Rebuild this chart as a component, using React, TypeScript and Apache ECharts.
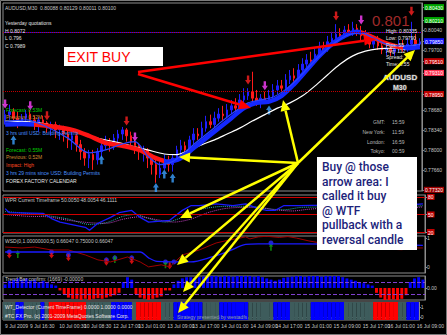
import React, { useEffect, useRef } from "react";
import * as echarts from "echarts";

// ---------- price data: AUDUSD M30, one bar per slot ----------
// [open, close, low, high]
const candles: number[][] = [
  [0.7851, 0.786, 0.7843, 0.7868], [0.786, 0.7865, 0.7851, 0.7877], [0.7865, 0.7854, 0.7848, 0.7871], [0.7854, 0.7848, 0.7837, 0.7865],
  [0.7848, 0.7854, 0.7841, 0.7861], [0.7854, 0.7861, 0.7848, 0.7868], [0.7861, 0.7851, 0.7844, 0.7868], [0.7851, 0.7843, 0.7834, 0.7858],
  [0.7843, 0.7851, 0.7831, 0.7856], [0.7851, 0.7846, 0.7839, 0.7858], [0.7846, 0.7837, 0.7829, 0.7849], [0.7837, 0.7843, 0.7824, 0.7848],
  [0.7843, 0.7834, 0.782, 0.7848], [0.7834, 0.7837, 0.7817, 0.7843], [0.7837, 0.7827, 0.7814, 0.7841], [0.7827, 0.7817, 0.7803, 0.7834],
  [0.7817, 0.7824, 0.78, 0.7831], [0.7824, 0.7809, 0.7797, 0.7827], [0.7809, 0.7797, 0.7783, 0.7817], [0.7797, 0.7786, 0.7773, 0.7803],
  [0.7786, 0.7792, 0.7769, 0.78], [0.7792, 0.7783, 0.7766, 0.78], [0.7783, 0.7797, 0.7775, 0.7803], [0.7797, 0.7807, 0.7786, 0.7814],
  [0.7807, 0.7814, 0.78, 0.7824], [0.7814, 0.7809, 0.7797, 0.782], [0.7809, 0.782, 0.78, 0.7827], [0.782, 0.7827, 0.781, 0.7834],
  [0.7827, 0.7834, 0.7817, 0.7839], [0.7834, 0.7824, 0.7814, 0.7837], [0.7824, 0.7814, 0.7803, 0.7831], [0.7814, 0.7807, 0.7793, 0.7817],
  [0.7807, 0.7797, 0.7783, 0.781], [0.7797, 0.78, 0.778, 0.7807], [0.78, 0.7786, 0.7769, 0.7803], [0.7786, 0.7775, 0.7758, 0.7792],
  [0.7775, 0.7758, 0.7744, 0.7783], [0.7758, 0.7769, 0.7752, 0.7783], [0.7769, 0.7783, 0.7766, 0.7792], [0.7783, 0.7775, 0.7763, 0.779],
  [0.7775, 0.7786, 0.7763, 0.7793], [0.7786, 0.78, 0.778, 0.7807], [0.78, 0.7807, 0.779, 0.7817], [0.7807, 0.78, 0.7793, 0.7814],
  [0.78, 0.7817, 0.7797, 0.7824], [0.7817, 0.7827, 0.781, 0.7837], [0.7827, 0.7824, 0.7817, 0.7837], [0.7824, 0.7837, 0.782, 0.7848],
  [0.7837, 0.7848, 0.7831, 0.7858], [0.7848, 0.7843, 0.7837, 0.786], [0.7843, 0.7854, 0.7837, 0.7865], [0.7854, 0.7861, 0.7848, 0.7871],
  [0.7861, 0.7858, 0.7851, 0.7875], [0.7858, 0.7868, 0.7854, 0.7878], [0.7868, 0.7875, 0.7861, 0.7885], [0.7875, 0.7871, 0.7865, 0.7888],
  [0.7871, 0.7885, 0.7868, 0.7895], [0.7885, 0.7892, 0.7878, 0.7905], [0.7892, 0.7899, 0.7885, 0.7905], [0.7899, 0.7888, 0.7878, 0.7933],
  [0.7888, 0.7882, 0.7875, 0.7902], [0.7882, 0.7888, 0.7871, 0.7895], [0.7888, 0.7885, 0.7878, 0.7899], [0.7885, 0.7892, 0.7878, 0.7902],
  [0.7892, 0.7902, 0.7885, 0.7912], [0.7902, 0.7909, 0.7895, 0.7919], [0.7909, 0.7905, 0.7899, 0.7919], [0.7905, 0.7919, 0.7902, 0.7929],
  [0.7919, 0.7926, 0.7912, 0.7936], [0.7926, 0.7922, 0.7916, 0.7939], [0.7922, 0.7936, 0.7919, 0.7946], [0.7936, 0.7946, 0.7933, 0.7956],
  [0.7946, 0.7953, 0.7939, 0.7963], [0.7953, 0.795, 0.7943, 0.7967], [0.795, 0.7963, 0.7946, 0.7973], [0.7963, 0.7973, 0.796, 0.7984],
  [0.7973, 0.797, 0.7963, 0.7984], [0.797, 0.7984, 0.7967, 0.7994], [0.7984, 0.799, 0.7977, 0.8001], [0.799, 0.7997, 0.7984, 0.8014],
  [0.7997, 0.7994, 0.7987, 0.8007], [0.7994, 0.8004, 0.799, 0.8011], [0.8004, 0.7999, 0.7994, 0.8014], [0.7999, 0.8007, 0.7994, 0.8018],
  [0.8007, 0.8001, 0.7994, 0.8014], [0.8001, 0.7994, 0.7987, 0.8011], [0.7994, 0.7987, 0.798, 0.8004], [0.7987, 0.798, 0.7973, 0.7997],
  [0.798, 0.7987, 0.7973, 0.7994], [0.7987, 0.7977, 0.797, 0.7994], [0.7977, 0.797, 0.7963, 0.7984], [0.797, 0.7973, 0.7961, 0.798],
  [0.7973, 0.7967, 0.796, 0.798], [0.7967, 0.7972, 0.796, 0.798], [0.7972, 0.7979, 0.7967, 0.7987], [0.7979, 0.7973, 0.7967, 0.7987],
  [0.7973, 0.798, 0.7967, 0.799], [0.798, 0.7987, 0.7973, 0.8018], [0.7987, 0.798, 0.7973, 0.7997], [0.798, 0.7984, 0.7975, 0.799],
];

// slow trend ribbon [bar, price]; colour changes with direction
const ribbon: number[][] = [
  [0, 0.7843], [4, 0.7844], [7, 0.7843], [12, 0.7839], [16, 0.7834], [20, 0.7824], [24, 0.7812], [28, 0.7807],
  [32, 0.78], [36, 0.7786], [39, 0.778], [42, 0.7786], [45, 0.7803], [48, 0.782], [51, 0.7837], [54, 0.7854],
  [57, 0.7871], [60, 0.788], [63, 0.7882], [66, 0.7892], [69, 0.7912], [72, 0.7936], [75, 0.796], [78, 0.798],
  [81, 0.7994], [84, 0.8001], [87, 0.7994], [90, 0.7984], [93, 0.7977], [96, 0.7973], [99, 0.7975],
];
const ribbonTurns = [7, 38, 85, 95]; // bars where the ribbon flips colour

// fast average (thin blue)
const fastLine: number[][] = [
  [0, 0.7848], [5, 0.7851], [10, 0.7839], [15, 0.782], [20, 0.7795], [24, 0.78], [28, 0.781], [31, 0.7814],
  [34, 0.779], [37, 0.7775], [40, 0.778], [43, 0.7797], [46, 0.7815], [49, 0.7832], [52, 0.785], [55, 0.7866],
  [58, 0.788], [61, 0.7885], [64, 0.789], [67, 0.7903], [70, 0.7922], [73, 0.7945], [76, 0.7966], [79, 0.7984],
  [82, 0.7996], [85, 0.7999], [88, 0.799], [91, 0.798], [94, 0.7977], [97, 0.7978], [99, 0.798],
];

// long moving average (white)
const whiteMA: number[][] = [
  [0, 0.7849], [5, 0.7848], [10, 0.7844], [14, 0.7837], [18, 0.7829], [22, 0.782], [26, 0.7814], [30, 0.7807],
  [34, 0.78], [38, 0.7793], [41, 0.7792], [44, 0.78], [47, 0.7809], [50, 0.7817], [53, 0.7827], [56, 0.7837],
  [59, 0.7849], [62, 0.786], [65, 0.7871], [68, 0.788], [71, 0.7892], [74, 0.7909], [77, 0.7928], [80, 0.7946],
  [83, 0.796], [86, 0.7968], [89, 0.7972], [92, 0.7973], [95, 0.7975], [99, 0.7979],
];

// signal arrows on the price window
const sellArrows: number[][] = [[10, 0.7858], [29, 0.7849], [58, 0.7919], [79, 0.8028], [97, 0.8036]];
const exitArrows: number[][] = [[0, 0.7878], [6, 0.7875], [31, 0.7822], [62, 0.7909], [85, 0.8021]];
const buyArrows: number[][] = [[2, 0.7817], [23, 0.7783], [36, 0.7736], [38, 0.7759], [40, 0.7752], [63, 0.7868]];

// horizontal levels on the price window and their tag colours
const levelValues = [0.8043, 0.8021, 0.7985, 0.7951, 0.7931, 0.7895, 0.7732];
const levelColors = ["#00a800", "#00a800", "#1010ff", "#c00000", "#ff3050", "#c00000", "#a00000"];
const priceTicks = [0.8004, 0.797, 0.7868, 0.7834, 0.78, 0.7766];

// ---------- WPR window ----------
const wprBlue: number[][] = [
  [0, 60], [1, 53], [9, 52], [11, 43], [13, 37], [19, 28], [20, 23], [22, 35], [25, 45], [27, 53], [30, 57],
  [32, 45], [34, 37], [39, 40], [42, 57], [44, 65], [46, 65], [50, 68], [54, 65], [57, 68], [60, 60], [62, 57],
  [64, 57], [66, 65], [70, 65], [75, 66], [80, 70], [85, 64], [90, 60], [95, 66], [99, 68],
];
const wprCyan: number[][] = [
  [0, 55], [5, 52], [10, 48], [15, 42], [20, 33], [24, 36], [28, 47], [31, 50], [34, 43], [38, 37], [42, 45],
  [46, 58], [50, 63], [54, 64], [58, 64], [62, 60], [66, 58], [70, 62], [75, 63], [80, 66], [85, 65], [90, 62],
  [95, 63], [99, 65],
];
const wprMagenta: number[][] = [
  [0, 50], [5, 47], [10, 46], [15, 40], [20, 36], [24, 35], [28, 42], [32, 46], [36, 41], [40, 37], [44, 42],
  [48, 53], [52, 60], [56, 62], [60, 62], [64, 58], [68, 56], [72, 59], [76, 61], [80, 63], [85, 64], [90, 62],
  [95, 61], [99, 63],
];
const wprLevels = [80, 50, 20];

// ---------- WSD window ----------
const wsdRed: number[][] = [
  [0, 0.69], [4, 0.66], [7, 0.69], [11, 0.59], [15, 0.59], [19, 0.42], [22, 0.25], [25, 0.18], [29, 0.35],
  [32, 0.18], [34, 0.01], [37, 0.08], [39, 0.01], [42, 0.42], [46, 0.59], [50, 0.83], [53, 0.93], [55, 0.98],
  [57, 1.04], [58, 0.97], [60, 1.04], [62, 1.06], [65, 1.02], [67, 1.05], [69, 1.0], [72, 0.9], [76, 0.8],
  [80, 0.75], [85, 0.7], [90, 0.62], [94, 0.6], [97, 0.66], [99, 0.66],
];
const wsdBlue: number[][] = [
  [0, 0.52], [32, 0.52], [34, 0.32], [36, 0.2], [44, 0.18], [49, 0.35], [53, 0.55], [57, 0.78], [60, 0.8],
  [70, 0.8], [99, 0.75],
];
const wsdDots: number[][] = [[1, 0.52], [11, 0.52], [15, 0.42], [24, 0.25], [26, 0.32], [30, 0.32], [38, 0.18], [40, 0.18], [63, 0.83]];
const wsdDown: number[][] = [[1, 0.42], [11, 0.42], [15, 0.32], [24, 0.17], [30, 0.22], [39, 0.05]];
const wsdUp: number[][] = [[3, 0.45], [26, 0.28], [38, 0.1], [63, 0.7]];

// ---------- trend bar confirmation histogram ----------
const trendBars = [
  0.3, 0.6, 0.7, 0.8, 0.7, 0.8, 0.6, 0.7, 0.5, 0.6, 0.4, 0.3, 0.2,
  -0.2, -0.5, -0.8, -0.9, -0.9, -1.0, -0.9, -1.0, -0.9, -0.85, -0.9, -0.8, -0.7, -0.6, -0.4,
  0.5, 0.9, 0.7,
  -0.5, -0.8, -0.9, -1.0, -0.9, -0.8, -0.7, -0.2, -0.2,
  0.3, 0.6, 0.8, 0.9, 0.9, 0.85, 0.9, 0.95, 1.0, 1.0, 1.0, 0.95, 1.0, 1.0, 0.95, 1.0, 1.0, 1.0, 1.0, 0.95,
  1.0, 0.9, 0.8, 0.7, 0.6, 0.7, 0.85, 0.9, 0.95, 1.0, 1.0, 0.95, 1.0, 1.0, 1.0, 0.95, 1.0, 1.0, 1.0, 1.0,
  0.9, 0.8, 0.7, 0.6, 0.5, 0.4, 0.3, 0.2,
  -0.4, -0.8, -1.0, -1.0, -0.95, -1.0, -0.9, -0.6,
  0.5, 0.8, 0.9, 0.7,
];
const trendLevels = [0.5, -0.5];

// ---------- WT detector: runs of [state, bars]; 0 flat, 1 buy, 2 sell ----------
const detectorRuns: number[][] = [
  [0, 3], [1, 2], [0, 4], [1, 1], [0, 1], [2, 9], [0, 6], [1, 5], [0, 1], [2, 6], [0, 3],
  [1, 7], [0, 4], [1, 7], [0, 6], [1, 4], [0, 5], [1, 8], [0, 7], [2, 6], [0, 2], [1, 3],
];

// ---------- time axis ----------
const dateTickIdx = [0, 6, 13, 19, 26, 32, 39, 45, 52, 59, 65, 72, 79, 86, 92, 99];
const dateTickText = [
  "9 Jul 2009", "9 Jul 16:30", "10 Jul 00:30", "10 Jul 08:30", "12 Jul 17:00", "13 Jul 01:00", "13 Jul 09:00",
  "13 Jul 17:00", "14 Jul 01:00", "14 Jul 09:00", "14 Jul 17:00", "15 Jul 01:00", "15 Jul 09:00",
  "15 Jul 17:00", "16 Jul 01:00", "16 Jul 09:00",
];

const N = candles.length;
const cats = Array.from({ length: N }, (_, i) => String(i));
const FONT = "Liberation Sans, Arial, sans-serif";
const AXIS_GREY = "#8c8c8c";
const LABEL_GREY = "#c8c8c8";
const ARROW_DOWN = "path://M3,0L7,0L7,6L10,6L5,12L0,6L3,6Z";
const ARROW_UP = "path://M5,0L10,6L7,6L7,12L3,12L3,6L0,6Z";

const detectorStates: number[] = [];
detectorRuns.forEach(([s, n]) => {
  for (let k = 0; k < n; k++) detectorStates.push(s);
});
const detectorColors = ["#3e5c5c", "#0000ff", "#ff0000"];

function arrow(x1: number, y1: number, x2: number, y2: number, color: string, w: number, len: number, half: number) {
  const dx = x2 - x1, dy = y2 - y1, L = Math.hypot(dx, dy);
  const ux = dx / L, uy = dy / L;
  const bx = x2 - ux * len, by = y2 - uy * len;
  return [
    { type: "line", z: 100, shape: { x1, y1, x2: bx, y2: by }, style: { stroke: color, lineWidth: w } },
    {
      type: "polygon", z: 100,
      shape: { points: [[x2, y2], [bx - uy * half, by + ux * half], [bx + uy * half, by - ux * half]] },
      style: { fill: color },
    },
  ];
}

function txt(x: number, y: number, text: string, fill: string, size = 5, extra: any = {}) {
  return {
    type: "text", z: 100, x, y,
    style: { text, fill, fontSize: size, fontFamily: FONT, verticalAlign: "middle", ...extra },
  };
}

const grids = [
  { top: 3, height: 188 },
  { top: 195, height: 38 },
  { top: 236, height: 37 },
  { top: 276, height: 24 },
  { top: 302, height: 18 },
].map((g) => ({
  ...g, left: 3, width: 422, show: true, borderColor: AXIS_GREY, borderWidth: 1, backgroundColor: "#000",
}));

function xAxis(gi: number) {
  const last = gi === 4;
  return {
    type: "category", gridIndex: gi, data: cats, boundaryGap: true,
    axisLine: { show: last, lineStyle: { color: AXIS_GREY } },
    axisTick: {
      show: last, length: 2, lineStyle: { color: AXIS_GREY },
      interval: (i: number) => dateTickIdx.includes(i),
    },
    splitLine: { show: false },
    axisLabel: {
      show: last, fontSize: 5, color: LABEL_GREY, fontFamily: FONT, align: "left", margin: 3,
      interval: (i: number) => dateTickIdx.includes(i),
      formatter: (_v: string, i: number) => {
        const k = dateTickIdx.indexOf(i);
        return k >= 0 ? dateTickText[k] : "";
      },
    },
  };
}

// right-hand value axis; values found in `tagged` get a coloured tag
function yAxis(gi: number, min: number, max: number, plain: number[], tagged: number[], tagColors: string[], digits: number) {
  const rich: any = {};
  tagColors.forEach((c, k) => {
    rich["t" + k] = { backgroundColor: c, color: "#ffffff", fontSize: 5, fontFamily: FONT, padding: [1, 1, 0, 1] };
  });
  return {
    type: "value", gridIndex: gi, position: "right", min, max, scale: true,
    axisLine: { show: true, lineStyle: { color: AXIS_GREY } },
    axisTick: { show: true, length: 2, customValues: [...plain, ...tagged], lineStyle: { color: AXIS_GREY } },
    splitLine: { show: false },
    axisLabel: {
      show: true, customValues: [...plain, ...tagged], fontSize: 5, color: LABEL_GREY, fontFamily: FONT, margin: 2,
      rich,
      formatter: (v: number) => {
        const k = tagged.findIndex((t) => Math.abs(t - v) < 1e-9);
        const s = v.toFixed(digits);
        return k >= 0 ? `{t${k}|${s}}` : s;
      },
    },
  };
}

function levelLines(values: number[], colors: string[], types: string[]) {
  return {
    symbol: "none", silent: true, animation: false, label: { show: false },
    data: values.map((v, k) => ({
      yAxis: v,
      lineStyle: { color: colors[k], type: types[k], width: 1 },
    })),
  };
}

export default function App() {
  const ref = useRef<HTMLDivElement>(null);

  useEffect(() => {
    if (!ref.current) return;
    const chart = echarts.init(ref.current, undefined, { renderer: "svg" });

    const graphic: any[] = [
      // outer frame
      { type: "rect", z: 99, shape: { x: 0.5, y: 0.5, width: 446, height: 334 }, style: { fill: "none", stroke: "#7a7a7a", lineWidth: 1 } },

      // price window captions
      txt(5, 8, "AUDUSD,M30  0.80088 0.80129 0.80011 0.80100", LABEL_GREY),
      txt(5, 23, "Yesterday quotations", "#e0e0e0"),
      txt(5, 31, "H 0.8072", "#e0e0e0"),
      txt(5, 38, "L 0.796", "#e0e0e0"),
      txt(5, 46, "C 0.7989", "#e0e0e0"),
      txt(6, 110, "Forecast: 0.53M", "#00d000"),
      txt(6, 117, "Previous: 0.52M", "#d08a30"),
      txt(6, 133, "3 hrs until USD: Building Permits", "#4a90ff"),
      txt(6, 150, "Forecast: 0.55M", "#00d000"),
      txt(6, 157, "Previous: 0.52M", "#d08a30"),
      txt(6, 165, "Impact: High", "#ff4a20"),
      txt(6, 173, "3 hrs 29 mins since USD: Building Permits", "#4a90ff"),
      txt(6, 181, "FOREX FACTORY CALENDAR", "#e8e8e8"),

      // live quote panel
      txt(372, 20, "0.801", "#a02a2a", 15),
      txt(386, 31, "High: 0.80335", "#e8e8e8"),
      txt(386, 38, "Low: 0.79790", "#e8e8e8"),
      txt(386, 45, "Pips: 55", "#e8e8e8"),
      txt(386, 51, "Avg: 112", "#e8e8e8"),
      txt(386, 57, "Spread: 1.5", "#e8e8e8"),
      txt(386, 64, "Time: 0:55", "#e8e8e8"),
      txt(383, 77, "AUDUSD", "#e0e0e0", 8, { fontWeight: "bold", stroke: "#404040", lineWidth: 1 }),
      txt(393, 87, "M30", "#e0e0e0", 7, { fontWeight: "bold", stroke: "#404040", lineWidth: 1 }),
      txt(385, 122, "GMT:", "#b8b8b8", 5, { align: "right" }),
      txt(385, 132, "New York:", "#b8b8b8", 5, { align: "right" }),
      txt(385, 142, "London:", "#b8b8b8", 5, { align: "right" }),
      txt(385, 151, "Tokyo:", "#b8b8b8", 5, { align: "right" }),
      txt(392, 122, "15:59", "#b8b8b8"),
      txt(392, 132, "11:59", "#b8b8b8"),
      txt(392, 142, "16:59", "#b8b8b8"),
      txt(392, 151, "00:59", "#b8b8b8"),

      // sub-window captions
      txt(5, 200, "WPR Current Timeframe 50.0050 48.0054 46.1111", LABEL_GREY),
      txt(5, 241, "WSD(0,1.00000000,5) 0.66047 0.75000 0.66047", LABEL_GREY),
      txt(5, 279, "Trend Bar confirm: (1669) -0.00000", LABEL_GREY),
      txt(5, 307, "WT_Detector (Current TimeFrame) 0.0000 1.0000 0.0000", "#e8e8e8"),
      txt(5, 316, "#TC FX Pro. (c) 2001-2009 MetaQuotes Software Corp.", "#e8e8e8"),
      txt(177, 317, "Strategy presented by westadfs", "#8fa0a0"),

      // "EXIT BUY" note
      { type: "rect", z: 100, shape: { x: 64, y: 47, width: 99, height: 19 }, style: { fill: "#ffffff" } },
      txt(67, 57, "EXIT BUY", "#ff0000", 14),
      ...arrow(138, 72, 376, 39, "#ff0000", 2.5, 12, 5),
      ...arrow(138, 74, 251, 108, "#ff0000", 2.5, 12, 5),

      // "Buy @ those arrow area" note
      { type: "rect", z: 100, shape: { x: 317, y: 157, width: 100, height: 93 }, style: { fill: "#ffffff" } },
      ...["Buy @ those", "arrow area: I", "called it buy", "@ WTF", "pullback with a", "reversal candle"].map((t, k) =>
        txt(322, 167 + k * 14.6, t, "#1c237a", 12, { fontFamily: "Roboto, sans-serif", fontWeight: 500 })
      ),
      ...arrow(298, 163, 415, 50, "#ffff00", 2.5, 11, 5),
      ...arrow(298, 163, 283, 100, "#ffff00", 2.5, 11, 5),
      ...arrow(298, 163, 179, 157, "#ffff00", 2.5, 11, 5),
      ...arrow(298, 163, 180, 218, "#ffff00", 2.5, 11, 5),
      ...arrow(298, 163, 177, 265, "#ffff00", 2.5, 11, 5),
      ...arrow(298, 163, 183, 292, "#ffff00", 2.5, 11, 5),
      ...arrow(298, 163, 178, 313, "#ffff00", 2.5, 11, 5),
    ];

    const pieces: any[] = [];
    const blue = "#1428ff", red = "#ff1414";
    let start = -Infinity;
    [...ribbonTurns, Infinity].forEach((t, k) => {
      const p: any = { color: k % 2 === 0 ? blue : red };
      if (start !== -Infinity) p.gte = start;
      if (t !== Infinity) p.lt = t;
      pieces.push(p);
      start = t;
    });

    const levelTypes = levelValues.map((_, k) => (k === 2 ? "solid" : "dotted"));

    const option: any = {
      animation: false,
      backgroundColor: "#000000",
      grid: grids,
      xAxis: [0, 1, 2, 3, 4].map(xAxis),
      yAxis: [
        yAxis(0, 0.773, 0.805, priceTicks, levelValues, levelColors, 5),
        yAxis(1, 18.3, 83.3, [], wprLevels, ["#c00000", "#c00000", "#c00000"], 0),
        yAxis(2, -0.2, 1.07, [0, 1], [], [], 0),
        yAxis(3, -1, 1, [0], [], [], 2),
        yAxis(4, -0.3, 1.5, [0, 1], [], [], 0),
      ],
      visualMap: [
        { type: "piecewise", show: false, seriesIndex: 2, dimension: 0, pieces },
      ],
      series: [
        {
          type: "candlestick", xAxisIndex: 0, yAxisIndex: 0, data: candles, barWidth: 2,
          itemStyle: { color: "#1e1eff", color0: "#ff1a1a", borderColor: "#1e1eff", borderColor0: "#ff1a1a", borderWidth: 1 },
          markLine: levelLines(levelValues, levelColors, levelTypes),
        },
        { type: "line", xAxisIndex: 0, yAxisIndex: 0, data: whiteMA, symbol: "none", smooth: 0.3, lineStyle: { color: "#ffffff", width: 1.2 } },
        { type: "line", xAxisIndex: 0, yAxisIndex: 0, data: ribbon, symbol: "none", smooth: 0.3, lineStyle: { width: 4.5 } },
        { type: "line", xAxisIndex: 0, yAxisIndex: 0, data: fastLine, symbol: "none", smooth: 0.3, lineStyle: { color: "#2a44ff", width: 1.2 } },
        { type: "scatter", xAxisIndex: 0, yAxisIndex: 0, data: sellArrows, symbol: ARROW_DOWN, symbolSize: [6, 9], itemStyle: { color: "#ff2020" } },
        { type: "scatter", xAxisIndex: 0, yAxisIndex: 0, data: exitArrows, symbol: ARROW_DOWN, symbolSize: [6, 9], itemStyle: { color: "#ff40ff" } },
        { type: "scatter", xAxisIndex: 0, yAxisIndex: 0, data: buyArrows, symbol: ARROW_UP, symbolSize: [6, 9], itemStyle: { color: "#3ca0ff" } },

        // WPR
        { type: "line", xAxisIndex: 1, yAxisIndex: 1, data: wprCyan, symbol: "none", smooth: 0.3, lineStyle: { color: "#20b0b0", width: 1, type: "dotted" } },
        { type: "line", xAxisIndex: 1, yAxisIndex: 1, data: wprMagenta, symbol: "none", smooth: 0.3, lineStyle: { color: "#c040c0", width: 1, type: "dotted" } },
        {
          type: "line", xAxisIndex: 1, yAxisIndex: 1, data: wprBlue, symbol: "none", lineStyle: { color: "#1a1aff", width: 1.3 },
          markLine: levelLines(wprLevels, ["#d00000", "#d00000", "#d00000"], ["solid", "solid", "solid"]),
        },

        // WSD
        { type: "line", xAxisIndex: 2, yAxisIndex: 2, data: wsdRed, symbol: "none", lineStyle: { color: "#a00000", width: 1 } },
        { type: "line", xAxisIndex: 2, yAxisIndex: 2, data: wsdBlue, symbol: "none", smooth: 0.3, lineStyle: { color: "#1a1aff", width: 1.3 } },
        { type: "scatter", xAxisIndex: 2, yAxisIndex: 2, data: wsdDots, symbol: "circle", symbolSize: 5, itemStyle: { color: "#2a2aff" } },
        { type: "scatter", xAxisIndex: 2, yAxisIndex: 2, data: wsdDown, symbol: ARROW_DOWN, symbolSize: [5, 7], itemStyle: { color: "#ff1010" } },
        { type: "scatter", xAxisIndex: 2, yAxisIndex: 2, data: wsdUp, symbol: ARROW_UP, symbolSize: [4, 8], itemStyle: { color: "#10a010" } },

        // trend bars
        {
          type: "bar", xAxisIndex: 3, yAxisIndex: 3, data: trendBars, barWidth: "70%",
          itemStyle: { color: (p: any) => (p.value >= 0 ? "#0000ff" : "#ff0000") },
          markLine: {
            symbol: "none", silent: true,
            data: trendLevels.map((v) => ({ yAxis: v })),
            lineStyle: { color: "#8040d0", type: "dashed", width: 1 },
            label: { show: false },
          },
        },

        // detector blocks
        {
          type: "bar", xAxisIndex: 4, yAxisIndex: 4, barWidth: "101%", barGap: "-100%",
          data: detectorStates.map((s) => ({ value: 1.5, itemStyle: { color: detectorColors[s] } })),
        },
        {
          type: "bar", xAxisIndex: 4, yAxisIndex: 4, barWidth: "101%", barGap: "-100%",
          data: detectorStates.map((s) => ({ value: -0.3, itemStyle: { color: detectorColors[s] } })),
        },
      ],
      graphic,
    };

    chart.setOption(option);
    return () => chart.dispose();
  }, []);

  return <div ref={ref} style={{ position: "fixed", left: 0, top: 0, width: 447, height: 335 }} />;
}
